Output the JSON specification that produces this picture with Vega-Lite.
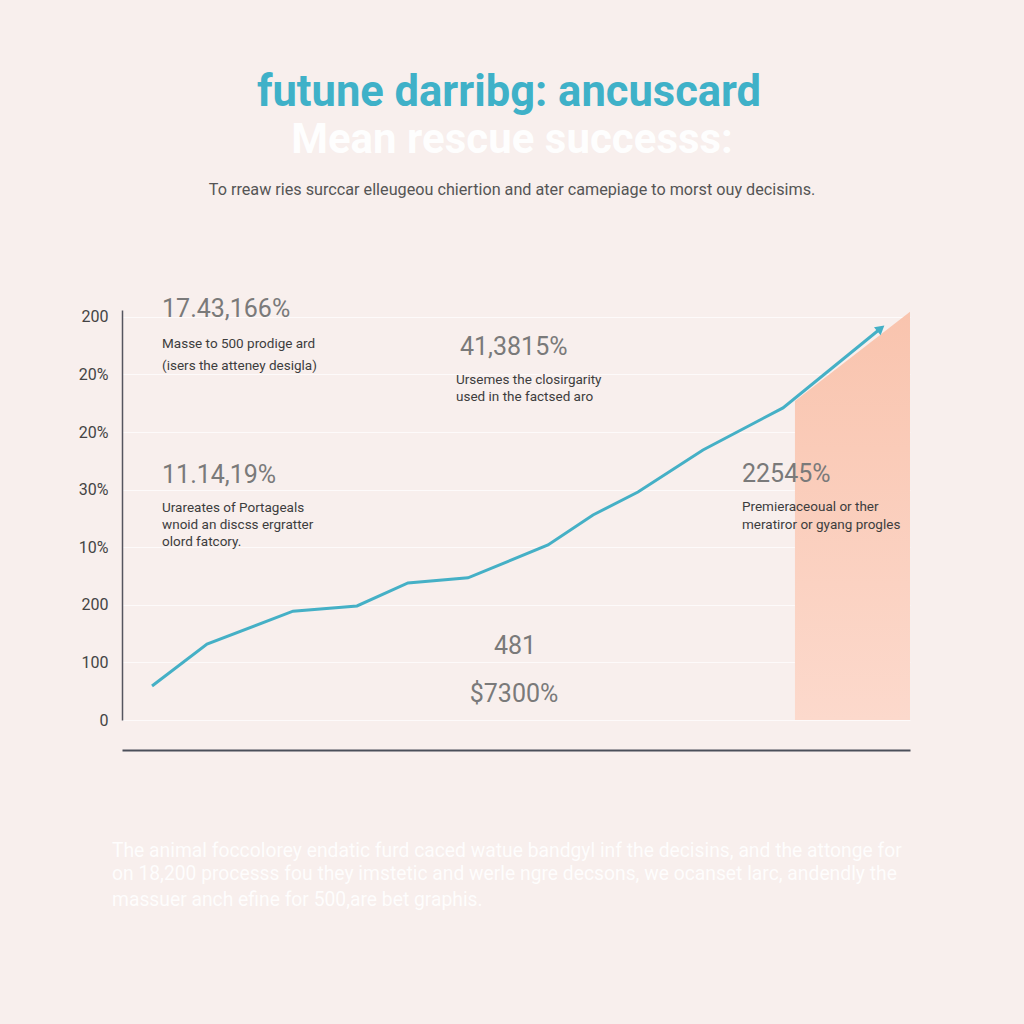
{
  "$schema": "https://vega.github.io/schema/vega-lite/v6.json",
  "width": 788,
  "height": 410,
  "autosize": {"type": "none"},
  "padding": {"left": 122, "top": 310, "right": 114, "bottom": 304},
  "background": "#f8efed",
  "config": {"view": {"stroke": null}, "font": "Roboto"},
  "datasets": {
    "series": [
      {"x": 3.81, "y": 0.59},
      {"x": 10.79, "y": 1.32},
      {"x": 21.7, "y": 1.89},
      {"x": 29.82, "y": 1.98},
      {"x": 36.29, "y": 2.38},
      {"x": 43.91, "y": 2.47},
      {"x": 54.06, "y": 3.04},
      {"x": 59.77, "y": 3.56},
      {"x": 65.48, "y": 3.96},
      {"x": 73.73, "y": 4.69},
      {"x": 83.88, "y": 5.42},
      {"x": 96.19, "y": 6.79}
    ],
    "band": [
      {"x": 85.4, "y": 5.54},
      {"x": 100, "y": 7.09}
    ],
    "arrow": [{"x": 96.3, "y": 6.8}],
    "notes": [
      {"kind": "stat", "x": 5.08, "y": 7.14, "text": "17.43,166%"},
      {"kind": "note", "x": 5.08, "y": 6.53, "text": "Masse to 500 prodige ard"},
      {"kind": "note", "x": 5.08, "y": 6.15, "text": "(isers the atteney desigla)"},
      {"kind": "stat", "x": 42.89, "y": 6.48, "text": "41,3815%"},
      {"kind": "note", "x": 42.39, "y": 5.9, "text": "Ursemes the closirgarity"},
      {"kind": "note", "x": 42.39, "y": 5.61, "text": "used in the factsed aro"},
      {"kind": "stat", "x": 5.08, "y": 4.25, "text": "11.14,19%"},
      {"kind": "note", "x": 5.08, "y": 3.68, "text": "Urareates of Portageals"},
      {"kind": "note", "x": 5.08, "y": 3.39, "text": "wnoid an discss ergratter"},
      {"kind": "note", "x": 5.08, "y": 3.09, "text": "olord fatcory."},
      {"kind": "stat", "x": 78.68, "y": 4.27, "text": "22545%"},
      {"kind": "note", "x": 78.68, "y": 3.7, "text": "Premieraceoual or ther"},
      {"kind": "note", "x": 78.68, "y": 3.39, "text": "meratiror or gyang progles"},
      {"kind": "center", "x": 49.87, "y": 1.28, "text": "481"},
      {"kind": "center", "x": 49.75, "y": 0.45, "text": "$7300%"},
      {"kind": "title", "x": 49.11, "y": 10.89, "text": "futune darribg: ancuscard"},
      {"kind": "title2", "x": 49.5, "y": 10.07, "text": "Mean rescue successs:"},
      {"kind": "sub", "x": 49.5, "y": 9.2, "text": "To rreaw ries surccar elleugeou chiertion and ater camepiage to morst ouy decisims."},
      {"kind": "para", "x": -1.27, "y": -2.27, "text": "The animal foccolorey endatic furd caced watue bandgyl inf the decisins, and the attonge for"},
      {"kind": "para", "x": -1.27, "y": -2.67, "text": "on 18,200 processs fou they imstetic and werle ngre decsons, we ocanset larc, andendly the"},
      {"kind": "para", "x": -1.27, "y": -3.12, "text": "massuer anch efine for 500,are bet graphis."}
    ]
  },
  "encoding": {
    "x": {
      "field": "x",
      "type": "quantitative",
      "scale": {"domain": [0, 100], "nice": false, "zero": false},
      "axis": {
        "title": null,
        "labels": false,
        "ticks": false,
        "grid": false,
        "offset": 30,
        "domainColor": "#4b4f5a",
        "domainWidth": 2
      }
    },
    "y": {
      "field": "y",
      "type": "quantitative",
      "scale": {"domain": [0, 7.12], "nice": false, "zero": false},
      "axis": {
        "title": null,
        "values": [0, 1, 2, 3, 4, 5, 6, 7],
        "labelExpr": "['0','100','200','10%','30%','20%','20%','200'][datum.value]",
        "labelFontSize": 16,
        "labelColor": "#444444",
        "labelPadding": 14,
        "ticks": false,
        "domainColor": "#55555f",
        "domainWidth": 1.5,
        "gridColor": "#ffffff",
        "gridOpacity": 0.7,
        "gridWidth": 1
      }
    }
  },
  "layer": [
    {
      "data": {"name": "band"},
      "mark": {
        "type": "area",
        "color": {
          "gradient": "linear",
          "x1": 0, "y1": 0, "x2": 0, "y2": 1,
          "stops": [
            {"offset": 0, "color": "#f9c4ae"},
            {"offset": 1, "color": "#fcd9cc"}
          ]
        }
      },
      "encoding": {"y2": {"datum": 0}}
    },
    {
      "data": {"name": "series"},
      "mark": {"type": "line", "color": "#45b0c6", "strokeWidth": 3}
    },
    {
      "data": {"name": "arrow"},
      "mark": {"type": "point", "shape": "triangle-up", "angle": 51, "filled": true, "size": 110, "color": "#45b0c6", "opacity": 1}
    },
    {
      "data": {"name": "notes"},
      "transform": [{"filter": "datum.kind === 'stat'"}],
      "mark": {"type": "text", "align": "left", "baseline": "middle", "fontSize": 25, "color": "#7a7a7a"},
      "encoding": {"text": {"field": "text"}}
    },
    {
      "data": {"name": "notes"},
      "transform": [{"filter": "datum.kind === 'note'"}],
      "mark": {"type": "text", "align": "left", "baseline": "middle", "fontSize": 13.5, "color": "#3d3d3d"},
      "encoding": {"text": {"field": "text"}}
    },
    {
      "data": {"name": "notes"},
      "transform": [{"filter": "datum.kind === 'center'"}],
      "mark": {"type": "text", "align": "center", "baseline": "middle", "fontSize": 25, "color": "#7a7a7a"},
      "encoding": {"text": {"field": "text"}}
    },
    {
      "data": {"name": "notes"},
      "transform": [{"filter": "datum.kind === 'title'"}],
      "mark": {"type": "text", "align": "center", "baseline": "middle", "fontSize": 43.5, "fontWeight": "bold", "color": "#3fb1c8"},
      "encoding": {"text": {"field": "text"}}
    },
    {
      "data": {"name": "notes"},
      "transform": [{"filter": "datum.kind === 'title2'"}],
      "mark": {"type": "text", "align": "center", "baseline": "middle", "fontSize": 42, "fontWeight": "bold", "color": "#ffffff", "opacity": 0.95},
      "encoding": {"text": {"field": "text"}}
    },
    {
      "data": {"name": "notes"},
      "transform": [{"filter": "datum.kind === 'sub'"}],
      "mark": {"type": "text", "align": "center", "baseline": "middle", "fontSize": 16.2, "color": "#555555"},
      "encoding": {"text": {"field": "text"}}
    },
    {
      "data": {"name": "notes"},
      "transform": [{"filter": "datum.kind === 'para'"}],
      "mark": {"type": "text", "align": "left", "baseline": "middle", "fontSize": 19.3, "color": "#ffffff", "opacity": 0.9},
      "encoding": {"text": {"field": "text"}}
    }
  ]
}
